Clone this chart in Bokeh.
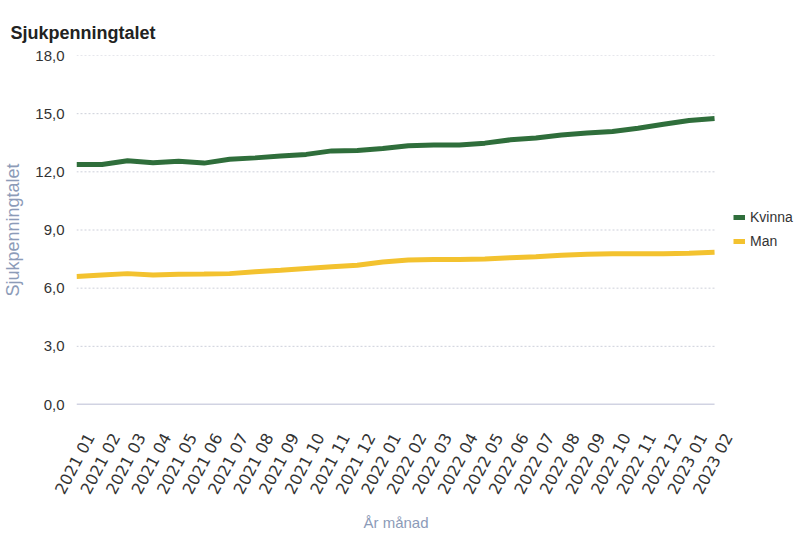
from bokeh.plotting import figure
from bokeh.models import Range1d, FixedTicker, Legend, LegendItem, LinearAxis, Title
from bokeh.embed import file_html
from bokeh.resources import INLINE

months = ["2021 01", "2021 02", "2021 03", "2021 04", "2021 05", "2021 06",
          "2021 07", "2021 08", "2021 09", "2021 10", "2021 11", "2021 12",
          "2022 01", "2022 02", "2022 03", "2022 04", "2022 05", "2022 06",
          "2022 07", "2022 08", "2022 09", "2022 10", "2022 11", "2022 12",
          "2023 01", "2023 02"]
kvinna = [12.38, 12.38, 12.57, 12.47, 12.55, 12.45, 12.65, 12.72, 12.82, 12.90,
          13.08, 13.10, 13.20, 13.35, 13.38, 13.38, 13.48, 13.65, 13.75, 13.90,
          14.00, 14.08, 14.25, 14.45, 14.65, 14.75]
man = [6.60, 6.68, 6.75, 6.68, 6.72, 6.73, 6.75, 6.85, 6.93, 7.02,
       7.10, 7.18, 7.35, 7.45, 7.48, 7.48, 7.50, 7.57, 7.62, 7.70,
       7.75, 7.77, 7.77, 7.78, 7.80, 7.85]
y_ticks = [0, 3, 6, 9, 12, 15, 18]
y_tick_labels = ["0,0", "3,0", "6,0", "9,0", "12,0", "15,0", "18,0"]

SANS = "Liberation Sans"
idx = list(range(len(months)))
n_last = len(months) - 1
x_end = 28.25   # frame extends right of the data to host the legend
shift = 0.55    # label offset (month units) so rotated labels sit as in the reference

p = figure(width=797, height=537, output_backend="svg", toolbar_location=None,
           x_range=Range1d(0, x_end), y_range=Range1d(0, 18),
           x_axis_type=None,
           min_border_left=76, min_border_right=0, min_border_top=55,
           min_border_bottom=132)
p.outline_line_color = None
p.background_fill_color = "white"

p.title.text = "Sjukpenningtalet"
p.title.text_font = SANS
p.title.text_font_size = "18px"
p.title.text_font_style = "bold"
p.title.text_color = "#222222"
p.title.align = "left"
p.title.offset = -66
p.title.standoff = 25

# grid lines only across the data span
grid_y = [t for t in y_ticks if t > 0]
p.segment(x0=[0] * len(grid_y), x1=[n_last] * len(grid_y), y0=grid_y, y1=grid_y,
          line_color="#cdd0da", line_dash="2 2", line_width=1)
p.segment(x0=[0], x1=[n_last], y0=[0], y1=[0], line_color="#a3a8c6", line_width=1.5)

r1 = p.line(idx, kvinna, line_color="#2f6e3b", line_width=5)
r2 = p.line(idx, man, line_color="#f3c22f", line_width=5)

p.yaxis.ticker = FixedTicker(ticks=y_ticks)
p.yaxis.major_label_overrides = dict(zip(y_ticks, y_tick_labels))
p.yaxis.axis_line_color = None
p.yaxis.major_tick_line_color = None
p.yaxis.minor_tick_line_color = None
p.yaxis.major_label_text_font = SANS
p.yaxis.major_label_text_font_size = "15px"
p.yaxis.major_label_text_color = "#333333"
p.yaxis.major_label_standoff = 6
p.yaxis.axis_label = "Sjukpenningtalet"
p.yaxis.axis_label_text_font = SANS
p.yaxis.axis_label_text_font_style = "normal"
p.yaxis.axis_label_text_font_size = "18px"
p.yaxis.axis_label_text_color = "#8c9bb8"
p.yaxis.axis_label_standoff = 9
p.ygrid.grid_line_color = None

p.extra_x_ranges = {"lab": Range1d(-shift, x_end - shift)}
xax = LinearAxis(x_range_name="lab", ticker=FixedTicker(ticks=idx))
xax.major_label_overrides = dict(zip(idx, months))
xax.major_label_orientation = 1.08
xax.axis_line_color = None
xax.major_tick_line_color = None
xax.minor_tick_line_color = None
xax.major_label_text_font = "DejaVu Sans"
xax.major_label_text_font_size = "16px"
xax.major_label_text_color = "#333333"
xax.major_label_standoff = 24
p.add_layout(xax, "below")

# x-axis title, centred under the data span (frame is wider to host the legend)
xtitle = Title(text="År månad", align="left", offset=287, standoff=14,
               text_font=SANS, text_font_size="15px", text_font_style="normal",
               text_color="#8c9bb8")
p.add_layout(xtitle, "below")

legend = Legend(items=[LegendItem(label="Kvinna", renderers=[r1]),
                       LegendItem(label="Man", renderers=[r2])],
                location=(657, 155), orientation="vertical")
legend.background_fill_alpha = 0
legend.border_line_color = None
legend.label_text_font = SANS
legend.label_text_font_size = "14px"
legend.label_text_color = "#333333"
legend.glyph_width = 12
legend.glyph_height = 12
legend.spacing = 8
legend.label_standoff = 5
legend.padding = 0
legend.margin = 0
p.add_layout(legend, "center")

open("out.html", "w").write(file_html(p, INLINE))
